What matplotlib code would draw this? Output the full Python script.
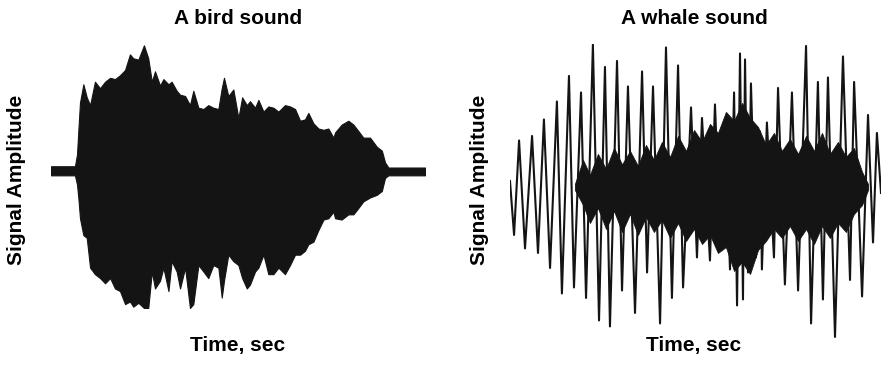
import matplotlib
matplotlib.use("Agg")
import matplotlib.pyplot as plt

plt.rcParams["font.family"] = ["Liberation Sans", "DejaVu Sans"]

# bird sound: upper / lower envelope of the waveform (time in sec, amplitude)
bird_t = [0.000, 0.128, 0.139, 0.146, 0.155, 0.173, 0.191, 0.209, 0.235, 0.262,
          0.289, 0.316, 0.342, 0.369, 0.396, 0.422, 0.440, 0.467, 0.497, 0.520,
          0.539, 0.556, 0.583, 0.601, 0.628, 0.645, 0.672, 0.690, 0.717, 0.743,
          0.761, 0.788, 0.815, 0.841, 0.868, 0.895, 0.913, 0.925, 0.948, 0.975,
          1.002, 1.022, 1.047, 1.064, 1.091, 1.109, 1.136, 1.162, 1.189, 1.216,
          1.251, 1.278, 1.305, 1.332, 1.358, 1.376, 1.403, 1.430, 1.457, 1.483,
          1.510, 1.519, 1.554, 1.590, 1.617, 1.644, 1.670, 1.706, 1.742, 1.769,
          1.786, 1.804, 2.000]
bird_upper = [0.04, 0.04, 0.13, 0.31, 0.53, 0.67, 0.57, 0.51, 0.69, 0.64,
              0.69, 0.72, 0.71, 0.74, 0.78, 0.90, 0.87, 0.86, 0.97, 0.87,
              0.69, 0.77, 0.66, 0.71, 0.67, 0.69, 0.62, 0.59, 0.58, 0.51,
              0.62, 0.49, 0.48, 0.51, 0.49, 0.48, 0.64, 0.72, 0.58, 0.63,
              0.41, 0.57, 0.51, 0.54, 0.49, 0.55, 0.46, 0.50, 0.49, 0.46,
              0.51, 0.50, 0.48, 0.39, 0.40, 0.45, 0.37, 0.33, 0.32, 0.33,
              0.26, 0.30, 0.36, 0.39, 0.36, 0.31, 0.26, 0.26, 0.19, 0.16,
              0.07, 0.03, 0.03]
bird_lower = [-0.03, -0.03, -0.10, -0.20, -0.36, -0.49, -0.51, -0.74, -0.79, -0.82,
              -0.86, -0.82, -0.90, -0.92, -1.02, -1.00, -1.04, -1.01, -1.05, -1.05,
              -0.77, -0.90, -0.84, -0.74, -0.92, -0.69, -0.77, -0.90, -0.74, -1.05,
              -1.02, -0.72, -0.77, -0.82, -0.72, -0.74, -0.97, -0.84, -0.64, -0.69,
              -0.72, -0.82, -0.90, -0.87, -0.77, -0.74, -0.64, -0.79, -0.79, -0.74,
              -0.79, -0.72, -0.64, -0.64, -0.61, -0.56, -0.54, -0.45, -0.37, -0.36,
              -0.31, -0.36, -0.37, -0.33, -0.33, -0.28, -0.23, -0.20, -0.18, -0.15,
              -0.05, -0.03, -0.03]

# whale sound: successive peaks / troughs of the waveform
whale_t = [0.000, 0.022, 0.049, 0.081, 0.119, 0.151, 0.183, 0.216, 0.253, 0.280,
           0.318, 0.345, 0.383, 0.410, 0.447, 0.480, 0.512, 0.539, 0.577, 0.604,
           0.636, 0.674, 0.712, 0.739, 0.771, 0.809, 0.841, 0.873, 0.906, 0.933,
           0.976, 1.008, 1.035, 1.078, 1.105, 1.132, 1.159, 1.186, 1.208, 1.224,
           1.240, 1.256, 1.267, 1.283, 1.299, 1.326, 1.348, 1.358, 1.385, 1.423,
           1.445, 1.482, 1.520, 1.553, 1.596, 1.623, 1.660, 1.687, 1.714, 1.752,
           1.795, 1.833, 1.855, 1.898, 1.930, 1.957, 1.978, 2.000]
whale_amp = [0.04, -0.32, 0.31, -0.41, 0.34, -0.44, 0.45, -0.54, 0.57, -0.71,
             0.74, -0.67, 0.63, -0.74, 0.95, -0.89, 0.80, -0.93, 0.84, -0.69,
             0.67, -0.84, 0.77, -0.57, 0.67, -0.91, 0.93, -0.74, 0.81, -0.67,
             0.53, -0.47, 0.46, -0.49, 0.55, -0.31, 0.43, -0.55, 0.63, -0.79,
             0.89, -0.75, 0.85, -0.57, 0.69, -0.47, 0.37, -0.55, 0.43, -0.47,
             0.66, -0.65, 0.63, -0.69, 0.94, -0.91, 0.70, -0.75, 0.73, -1.00,
             0.87, -0.62, 0.70, -0.73, 0.48, -0.37, 0.36, -0.04]

# dense high-frequency core of the whale sound (ragged edges)
core_t = [0.350, 0.394, 0.431, 0.474, 0.518, 0.561, 0.604, 0.647, 0.690, 0.733,
          0.776, 0.819, 0.863, 0.906, 0.949, 0.992, 1.035, 1.078, 1.121, 1.164,
          1.208, 1.251, 1.294, 1.337, 1.380, 1.423, 1.466, 1.509, 1.553, 1.596,
          1.639, 1.682, 1.725, 1.768, 1.811, 1.854, 1.898, 1.930]
core_upper = [0.02, 0.18, 0.08, 0.22, 0.12, 0.26, 0.15, 0.24, 0.14, 0.28,
              0.18, 0.30, 0.20, 0.34, 0.24, 0.38, 0.30, 0.42, 0.36, 0.50,
              0.44, 0.56, 0.46, 0.40, 0.28, 0.36, 0.24, 0.32, 0.22, 0.34,
              0.24, 0.36, 0.22, 0.30, 0.20, 0.26, 0.10, 0.02]
core_lower = [-0.02, -0.12, -0.24, -0.14, -0.28, -0.16, -0.30, -0.18, -0.32, -0.20,
              -0.30, -0.22, -0.34, -0.24, -0.36, -0.28, -0.38, -0.32, -0.44, -0.40,
              -0.56, -0.50, -0.58, -0.42, -0.36, -0.28, -0.34, -0.26, -0.36, -0.28,
              -0.38, -0.26, -0.34, -0.24, -0.30, -0.18, -0.12, -0.02]

ink = "#141414"

fig = plt.figure(figsize=(8.84, 3.66), dpi=100)

ax1 = fig.add_axes([0.0577, 0.1585, 0.4231, 0.7213])
ax1.fill_between(bird_t, bird_lower, bird_upper, color=ink, lw=0.8)
ax1.set_xlim(0, 2.0)
ax1.set_ylim(-1.05, 0.98)
ax1.axis("off")

ax2 = fig.add_axes([0.5769, 0.0765, 0.4197, 0.8033])
ax2.fill_between(core_t, core_lower, core_upper, color=ink, lw=0.6)
ax2.plot(whale_t, whale_amp, color=ink, lw=1.5)
ax2.set_xlim(0, 2.0)
ax2.set_ylim(-1.007, 0.953)
ax2.axis("off")

tkw = dict(fontsize=15, fontweight="bold", color="black", ha="center", va="center")
fig.text(238 / 884, 1 - 18 / 366, "A bird sound", **tkw)
fig.text(694 / 884, 1 - 18 / 366, "A whale sound", **tkw)
fig.text(238 / 884, 1 - 345 / 366, "Time, sec", **tkw)
fig.text(694 / 884, 1 - 345 / 366, "Time, sec", **tkw)
fig.text(17 / 884, 1 - 180 / 366, "Signal Amplitude", rotation=90, **tkw)
fig.text(480 / 884, 1 - 180 / 366, "Signal Amplitude", rotation=90, **tkw)

fig.savefig("out.png", dpi=100)
